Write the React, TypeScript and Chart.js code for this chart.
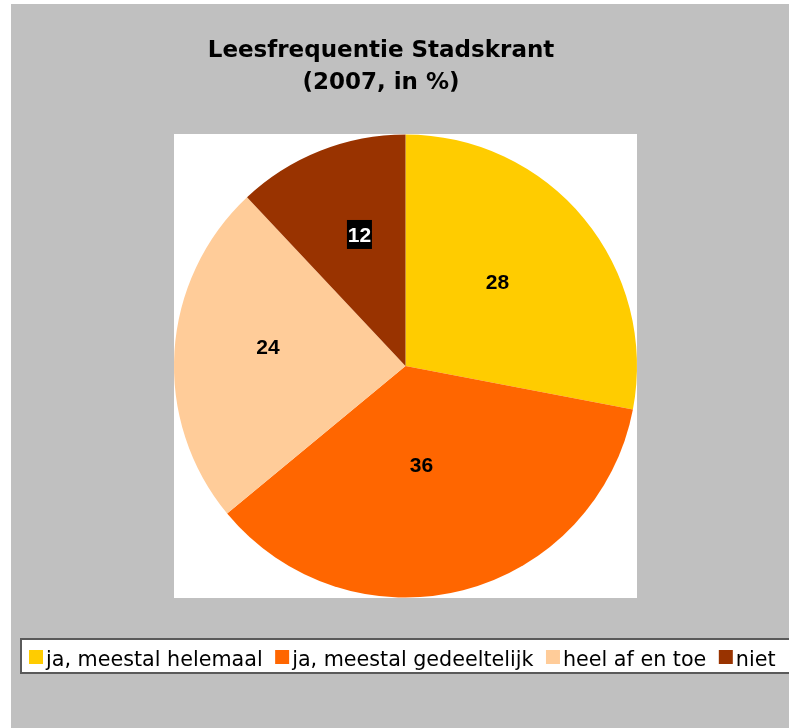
import React, { useEffect, useRef } from "react";
import { Chart, registerables } from "chart.js";

Chart.register(...registerables);

const TITLE_LINES = ["Leesfrequentie Stadskrant", "(2007, in %)"];
const CATEGORIES = [
  "ja, meestal helemaal",
  "ja, meestal gedeeltelijk",
  "heel af en toe",
  "niet",
];
const VALUES = [28, 36, 24, 12];
const COLORS = ["#FFCC00", "#FF6600", "#FFCC99", "#993300"];

// label placement relative to each slice (fraction of radius, angular nudge in degrees)
const LABEL_RADIUS = [0.541, 0.429, 0.6, 0.602];
const LABEL_ANGLE_SHIFT = [-3.1, 5.1, 4.3, 2.3];
const LABEL_BOXED = [false, false, false, true];

const W = 778;
const H = 724;

const decorPlugin = {
  id: "decor",
  beforeDraw(chart: any) {
    const ctx = chart.ctx;
    const { left, top, right, bottom } = chart.chartArea;
    ctx.save();
    // white plot square
    ctx.fillStyle = "#ffffff";
    ctx.fillRect(left, top, right - left, bottom - top);

    // title
    ctx.fillStyle = "#000000";
    ctx.font = "bold 23px 'DejaVu Sans'";
    ctx.textAlign = "center";
    ctx.textBaseline = "alphabetic";
    TITLE_LINES.forEach((line, i) => {
      ctx.fillText(line, 370, 53 + i * 32);
    });

    // legend box
    ctx.fillStyle = "#ffffff";
    ctx.fillRect(10, 635, W, 34);
    ctx.strokeStyle = "#5a5a5a";
    ctx.lineWidth = 2;
    ctx.strokeRect(10, 635, W + 20, 34);

    ctx.font = "20.7px 'DejaVu Sans'";
    ctx.textAlign = "left";
    let x = 18;
    CATEGORIES.forEach((cat, i) => {
      ctx.fillStyle = COLORS[i];
      ctx.fillRect(x, 646, 14, 14);
      ctx.fillStyle = "#000000";
      ctx.fillText(cat, x + 17, 662);
      x += 17 + ctx.measureText(cat).width + 12.5;
    });
    ctx.restore();
  },
  afterDatasetsDraw(chart: any) {
    const ctx = chart.ctx;
    const meta = chart.getDatasetMeta(0);
    ctx.save();
    ctx.font = "bold 21px 'Liberation Sans'";
    ctx.textAlign = "center";
    ctx.textBaseline = "alphabetic";
    meta.data.forEach((arc: any, i: number) => {
      const p = arc.getProps(["x", "y", "startAngle", "endAngle", "outerRadius"], true);
      const mid = (p.startAngle + p.endAngle) / 2 + (LABEL_ANGLE_SHIFT[i] * Math.PI) / 180;
      const r = p.outerRadius * LABEL_RADIUS[i];
      const cx = p.x + Math.cos(mid) * r;
      const cy = p.y + Math.sin(mid) * r;
      const text = String(VALUES[i]);
      if (LABEL_BOXED[i]) {
        ctx.fillStyle = "#000000";
        ctx.fillRect(cx - 12.5, cy - 14.5, 25, 29);
        ctx.fillStyle = "#ffffff";
      } else {
        ctx.fillStyle = "#000000";
      }
      ctx.fillText(text, cx, cy + 7.5);
    });
    ctx.restore();
  },
};

export default function App() {
  const ref = useRef<HTMLCanvasElement | null>(null);

  useEffect(() => {
    if (!ref.current) return;
    const chart = new Chart(ref.current, {
      type: "pie",
      data: {
        labels: CATEGORIES,
        datasets: [
          {
            data: VALUES,
            backgroundColor: COLORS,
            borderWidth: 0,
          },
        ],
      },
      options: {
        responsive: false,
        animation: false,
        layout: { padding: { left: 163, right: 152, top: 130, bottom: 130 } },
        plugins: {
          legend: { display: false },
          title: { display: false },
          tooltip: { enabled: false },
        },
      },
      plugins: [decorPlugin],
    });
    return () => chart.destroy();
  }, []);

  return (
    <div
      style={{
        position: "absolute",
        left: 11,
        top: 4,
        width: W,
        height: H,
        background: "#c0c0c0",
      }}
    >
      <canvas ref={ref} width={W} height={H} style={{ display: "block" }} />
    </div>
  );
}
